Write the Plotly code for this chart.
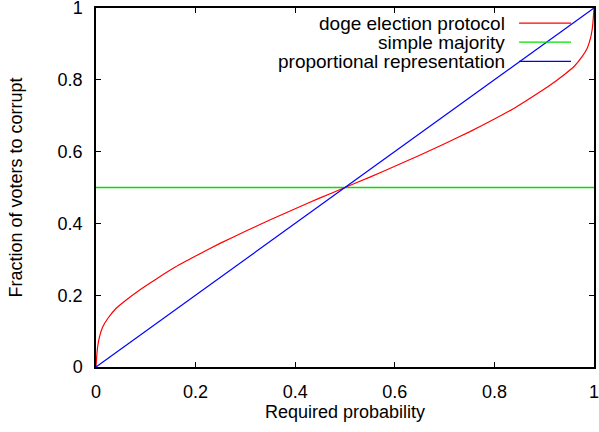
import plotly.graph_objects as go

# Data
doge_x = [0, 0.0014, 0.0034, 0.007, 0.0136, 0.0236, 0.04, 0.06, 0.087, 0.122,
          0.16, 0.2, 0.25, 0.3, 0.35, 0.4, 0.45, 0.5, 0.55, 0.6, 0.65,
          0.7, 0.75, 0.8, 0.84, 0.878, 0.913, 0.94, 0.96, 0.9764, 0.9864, 0.993,
          0.9966, 0.9986, 1]
doge_y = [0, 0.029, 0.057, 0.084, 0.112, 0.135, 0.163, 0.186, 0.214, 0.246,
          0.279, 0.309, 0.345, 0.378, 0.41, 0.441, 0.471, 0.5, 0.529, 0.559, 0.59,
          0.622, 0.655, 0.691, 0.721, 0.754, 0.786, 0.814, 0.837, 0.865, 0.888, 0.916,
          0.943, 0.971, 1]
majority_x = [0, 1]
majority_y = [0.5, 0.5]
prop_x = [0, 1]
prop_y = [0, 1]

series_names = ["doge election protocol", "simple majority", "proportional representation"]
series_colors = ["#ff0000", "#00e000", "#0000ff"]

tick_vals = [0, 0.2, 0.4, 0.6, 0.8, 1]
tick_text = ["0", "0.2", "0.4", "0.6", "0.8", "1"]

FONT = "Liberation Sans, Arial, sans-serif"

fig = go.Figure()
fig.add_trace(go.Scatter(x=majority_x, y=majority_y, mode="lines",
                         line=dict(color=series_colors[1], width=1.5), name=series_names[1]))
fig.add_trace(go.Scatter(x=doge_x, y=doge_y, mode="lines",
                         line=dict(color=series_colors[0], width=1.2, shape="spline", smoothing=0.3),
                         name=series_names[0]))
fig.add_trace(go.Scatter(x=prop_x, y=prop_y, mode="lines",
                         line=dict(color=series_colors[2], width=1.2), name=series_names[2]))

W, H = 599, 432
L, R, T, B = 95.5, 5, 7.5, 65
pw, ph = W - L - R, H - T - B

def px_x(p):
    return (p - L) / pw

def px_y(p):
    return (H - B - p) / ph

# Gnuplot-style key: right-aligned text with line sample on the right
row_y = [22.7, 41.7, 61]
for name, color, ry in zip(series_names, series_colors, row_y):
    fig.add_annotation(xref="paper", yref="paper", x=px_x(507), y=px_y(ry),
                       text=name, showarrow=False, xanchor="right", yanchor="middle",
                       font=dict(family=FONT, size=19, color="#000000"))
    fig.add_shape(type="line", xref="paper", yref="paper",
                  x0=px_x(519), x1=px_x(571), y0=px_y(ry), y1=px_y(ry),
                  line=dict(color=color, width=1.2))

axis_common = dict(range=[0, 1], tickvals=tick_vals, ticktext=tick_text,
                   ticks="inside", ticklen=5, tickwidth=1, tickcolor="#000000",
                   showline=True, linecolor="#000000", linewidth=1.5, mirror="ticks",
                   showgrid=False, zeroline=False, ticklabeloverflow="allow",
                   automargin=False,
                   tickfont=dict(family=FONT, size=18, color="#000000"))

fig.update_layout(
    width=W, height=H,
    margin=dict(l=L, r=R, t=T, b=B, pad=0, autoexpand=False),
    paper_bgcolor="white", plot_bgcolor="white",
    showlegend=False,
    font=dict(family=FONT, size=18, color="#000000"),
    xaxis=dict(**axis_common, ticklabelstandoff=8,
               title=dict(text="Required probability", standoff=4,
                          font=dict(family=FONT, size=18))),
    yaxis=dict(**axis_common, ticklabelstandoff=8,
               title=dict(text="Fraction of voters to corrupt", standoff=30,
                          font=dict(family=FONT, size=18))),
)

fig.write_html("out.html", config={"displayModeBar": False},
               post_script="document.body.style.margin='0';document.body.style.overflow='hidden';")
